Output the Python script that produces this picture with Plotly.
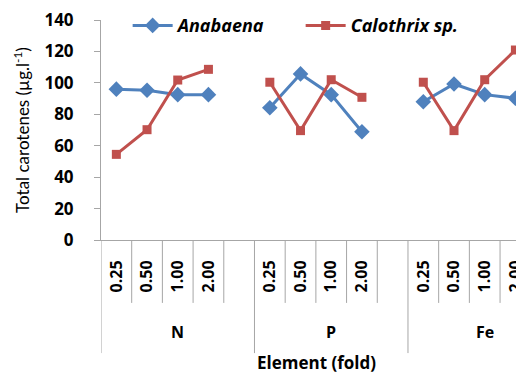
import plotly.graph_objects as go

groups = ["N", "P", "Fe"]
levels = ["0.25", "0.50", "1.00", "2.00"]
anabaena = [96, 95.3, 92.5, 92.5, 84.2, 105.7, 92.5, 68.9, 88, 99.3, 92.5, 90.2]
calothrix = [54.5, 70.2, 101.8, 108.6, 100.4, 69.6, 102, 90.8, 100.4, 69.6, 102, 120.9]
y_ticks = [0, 20, 40, 60, 80, 100, 120, 140]

slots_per_group = len(levels) + 1  # one blank slot after each group

xs, xtext = [], []
for g in range(len(groups)):
    for i, lv in enumerate(levels):
        xs.append(g * slots_per_group + i)
        xtext.append(lv)

def with_gaps(vals):
    out_x, out_y = [], []
    for g in range(len(groups)):
        for i in range(len(levels)):
            k = g * len(levels) + i
            out_x.append(xs[k]); out_y.append(vals[k])
        out_x.append(None); out_y.append(None)
    return out_x, out_y

FONT = "Open Sans"
TFONT = "Lato"
BLUE = "#4F81BD"
RED = "#C0504D"
GRID = "#A6A6A6"

fig = go.Figure()
ax, ay = with_gaps(anabaena)
cx, cy = with_gaps(calothrix)
fig.add_trace(go.Scatter(x=ax, y=ay, mode="lines+markers", name="<i>Anabaena</i>",
                         line=dict(color=BLUE, width=3),
                         marker=dict(symbol="diamond", size=12, color=BLUE),
                         connectgaps=False))
fig.add_trace(go.Scatter(x=cx, y=cy, mode="lines+markers", name="<i>Calothrix sp.</i>",
                         line=dict(color=RED, width=3),
                         marker=dict(symbol="square", size=9, color=RED),
                         connectgaps=False))

shapes = []
n_slots = len(groups) * slots_per_group
for k in range(n_slots):
    b = k - 0.5
    is_group = (k % slots_per_group == 0)
    shapes.append(dict(type="line", xref="x", yref="paper", x0=b, x1=b,
                       y0=0, y1=-0.514 if is_group else -0.286,
                       line=dict(color=GRID, width=1)))

annotations = []
for g, name in enumerate(groups):
    center = g * slots_per_group + (slots_per_group - 1) / 2
    annotations.append(dict(x=center, y=-0.418, xref="x", yref="paper", text=name,
                            showarrow=False, font=dict(family=FONT, size=16, color="black", weight="bold"),
                            xanchor="center", yanchor="middle"))
annotations.append(dict(x=0.51, y=-0.559, xref="paper", yref="paper", text="Element (fold)",
                        showarrow=False, font=dict(family=FONT, size=17, color="black", weight="bold"),
                        xanchor="center", yanchor="middle"))

# page body has an 8px margin: figure sized to fill the remaining window
fig.update_layout(
    width=516, height=367,
    margin=dict(l=93, r=0, t=12, b=135, autoexpand=False),
    paper_bgcolor="white", plot_bgcolor="white",
    showlegend=True,
    legend=dict(orientation="h", x=0.063, y=0.974, xanchor="left", yanchor="middle",
                font=dict(family=FONT, size=18, color="black", weight="bold"),
                bgcolor="rgba(0,0,0,0)", itemwidth=40, entrywidth=118, entrywidthmode="pixels"),
    shapes=shapes,
    annotations=annotations,
    xaxis=dict(range=[-0.5, 13.28], tickmode="array", tickvals=xs, ticktext=xtext,
               tickangle=-90, ticks="", showgrid=False, zeroline=False, automargin=False,
               showline=True, linecolor=GRID, linewidth=1, ticklabeloverflow="allow",
               tickfont=dict(family=FONT, size=16, color="black", weight="bold"),
               ticklabelstandoff=13),
    yaxis=dict(range=[0, 140], tickmode="array", tickvals=y_ticks, automargin=False,
               ticks="outside", ticklen=6, tickcolor=GRID, showgrid=False, zeroline=False,
               showline=True, linecolor=GRID, linewidth=1, ticklabeloverflow="allow",
               tickfont=dict(family=FONT, size=17, color="black", weight="bold"),
               ticklabelstandoff=17,
               title=dict(text="Total carotenes (µg.l<sup>-1</sup>)",
                          font=dict(family=TFONT, size=17, color="black"), standoff=10)),
)

fig.write_html("out.html")
